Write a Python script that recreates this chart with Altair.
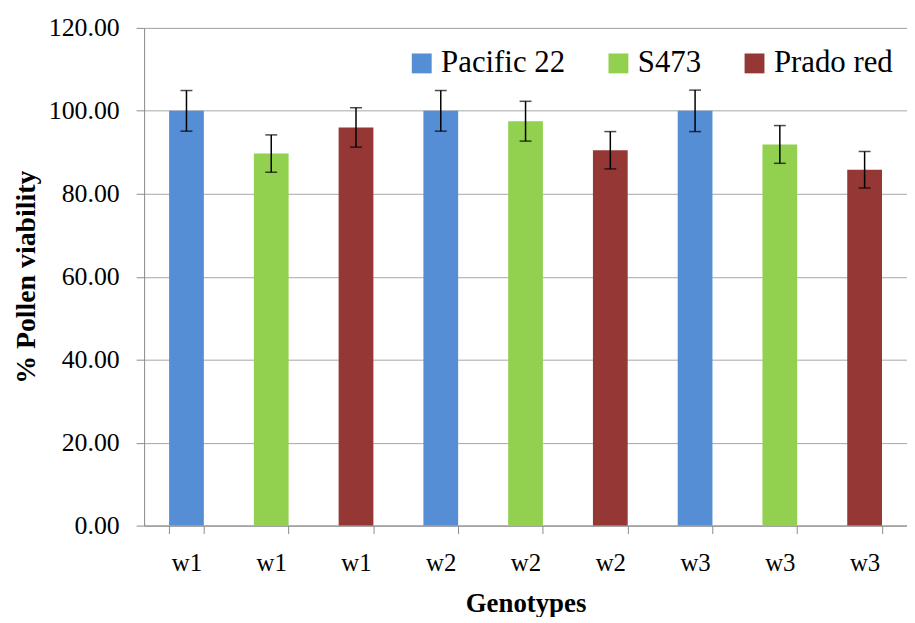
import altair as alt
import pandas as pd

genotypes = ["w1", "w1", "w1", "w2", "w2", "w2", "w3", "w3", "w3"]
varieties = ["Pacific 22", "S473", "Prado red"] * 3
viability = [100.0, 89.7, 96.0, 100.0, 97.5, 90.5, 100.0, 91.9, 85.8]
errors = [4.9, 4.5, 4.75, 4.9, 4.8, 4.5, 5.0, 4.55, 4.4]
y_ticks = [0, 20, 40, 60, 80, 100, 120]

variety_order = ["Pacific 22", "S473", "Prado red"]
variety_colors = ["#558ED5", "#92D050", "#953735"]

keys = [f"{g}|{v}|{i}" for i, (g, v) in enumerate(zip(genotypes, varieties))]
df = pd.DataFrame({
    "key": keys,
    "genotype": genotypes,
    "variety": varieties,
    "value": viability,
    "lo": [v - e for v, e in zip(viability, errors)],
    "hi": [v + e for v, e in zip(viability, errors)],
})

FONT = "'Times New Roman', 'Liberation Serif', serif"

x_enc = alt.X(
    "key:N",
    sort=keys,
    scale=alt.Scale(paddingInner=0.59, paddingOuter=0.295),
    axis=alt.Axis(
        title="Genotypes",
        labelExpr="split(datum.label, '|')[0]",
        labelAngle=0,
        tickBand="extent",
        grid=False,
        tickSize=8,
        tickColor="#8c8c8c",
        domainColor="#8c8c8c",
        labelFont=FONT,
        labelFontSize=25,
        labelColor="#000000",
        labelPadding=17,
        titleFont=FONT,
        titleFontSize=27,
        titleFontWeight="bold",
        titleColor="#000000",
        titlePadding=15,
    ),
)

y_scale = alt.Scale(domain=[0, 120], nice=False)
y_axis = alt.Axis(
    title="% Pollen viability",
    values=y_ticks,
    format=".2f",
    grid=True,
    gridColor="#a6a6a6",
    tickSize=8,
    tickColor="#8c8c8c",
    domainColor="#8c8c8c",
    labelFont=FONT,
    labelFontSize=26,
    labelColor="#000000",
    labelPadding=17,
    titleFont=FONT,
    titleFontSize=28,
    titleFontWeight="bold",
    titleColor="#000000",
    titlePadding=8,
)

bars = alt.Chart(df).mark_bar().encode(
    x=x_enc,
    y=alt.Y("value:Q", scale=y_scale, axis=y_axis),
    color=alt.Color(
        "variety:N",
        scale=alt.Scale(domain=variety_order, range=variety_colors),
        legend=alt.Legend(
            title=None,
            orient="none",
            direction="horizontal",
            legendX=264,
            legendY=20,
            symbolType="square",
            symbolSize=400,
            symbolStrokeWidth=0,
            labelFont=FONT,
            labelFontSize=31,
            labelColor="#000000",
            labelOffset=4,
            columnPadding=38,
            padding=0,
            labelLimit=300,
        ),
    ),
)

err = alt.Chart(df).mark_rule(color="#000000", strokeWidth=1.5).encode(
    x=alt.X("key:N", sort=keys),
    y="lo:Q",
    y2="hi:Q",
)
cap_lo = alt.Chart(df).mark_tick(color="#000000", size=12, thickness=1.5).encode(
    x=alt.X("key:N", sort=keys),
    y="lo:Q",
)
cap_hi = alt.Chart(df).mark_tick(color="#000000", size=12, thickness=1.5).encode(
    x=alt.X("key:N", sort=keys),
    y="hi:Q",
)

chart = (
    alt.layer(bars, err, cap_lo, cap_hi)
    .properties(
        width=768,
        height=501,
        autosize=alt.AutoSizeParams(type="none"),
        padding={"left": 137, "top": 18, "right": 0, "bottom": 90},
    )
    .configure_view(stroke=None)
    .configure(background="#ffffff", font=FONT)
)

chart.save("out.html", embed_options={"renderer": "svg", "actions": False})
